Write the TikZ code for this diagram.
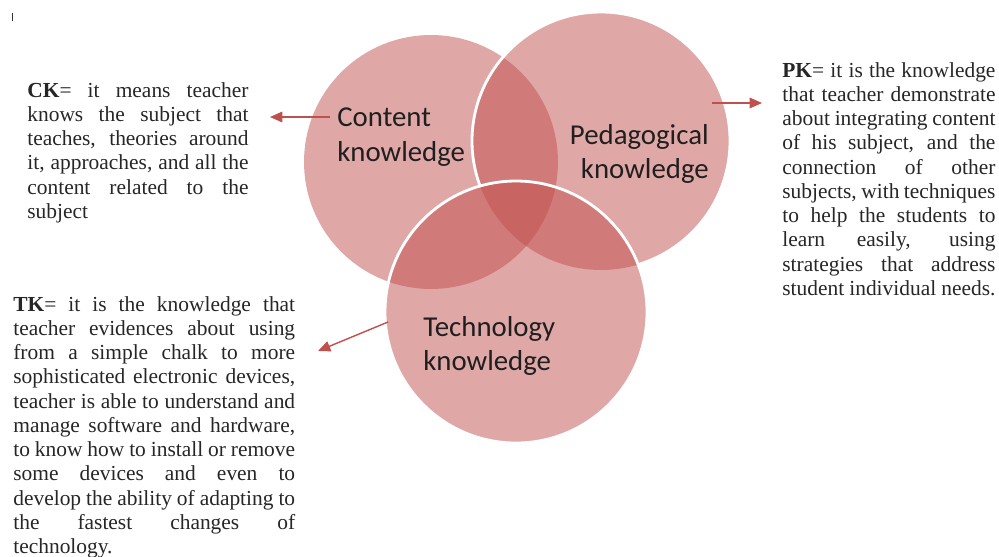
\documentclass[tikz,border=0pt]{standalone}
\usepackage{fontspec}
\setmainfont{Liberation Serif}
\newfontfamily\circfont{Carlito}
\usetikzlibrary{arrows.meta}
\definecolor{tpred}{RGB}{192,80,77}
\tikzset{
  venn/.style={circle, fill=tpred, fill opacity=0.5, inner sep=0pt},
  rim/.style={draw=white, line width=1.6pt},
  circlabel/.style={font=\circfont\fontsize{16.4}{19.6}\selectfont, text=black!88, inner sep=0pt},
  desc/.style={font=\fontsize{12.2}{13.8}\selectfont, text=black!85, align=justify, inner sep=0pt, anchor=north west},
  pointer/.style={draw=tpred, line width=0.8pt, -{Triangle[length=7pt,width=6pt]}, fill=tpred}
}
\hbadness=10000
\hyphenpenalty=10000

\begin{document}
\begin{tikzpicture}[x=0.02cm, y=-0.02cm]
    \useasboundingbox (0,0) rectangle (999,556);

    % Stray mark
    \coordinate (mtop) at (12,13);
    \coordinate (mbot) at (12,21);
    \draw[line width=0.5pt, black!80] (mtop) -- (mbot);

    % Circles
    \node[venn, minimum size=5.08cm] (C) at (431,162) {};
    \node[venn, minimum size=5.16cm] (P) at (601,141) {};
    \begin{scope}[even odd rule]
      \clip (516,312) circle[radius=131] (-50,-50) rectangle (1050,600);
      \draw[rim] (P.center) circle[radius=129];
    \end{scope}
    \node[venn, minimum size=5.24cm] (T) at (516,312) {};
    \draw[rim] (T.center) circle[radius=131];

    % Circle labels
    \node[circlabel, align=left, anchor=west] (Clab) at (337,137) {Content\\knowledge};
    \node[circlabel, align=right, anchor=east] (Plab) at (709,154) {Pedagogical\\knowledge};
    \node[circlabel, align=left, anchor=west] (Tlab) at (423,346) {Technology\\knowledge};

    % Descriptions
    \node[desc, text width=125.9pt] (CK) at (27,82) {\textbf{CK}= it means teacher\linebreak
      knows the subject that\linebreak
      teaches, theories around\linebreak
      it, approaches, and all the\linebreak
      content related to the\linebreak
      subject};
    \node[desc, text width=121.3pt] (PK) at (782,62) {\textbf{PK}= it is the knowledge\linebreak
      that teacher demonstrate\linebreak
      about integrating content\linebreak
      of his subject, and the\linebreak
      connection of other\linebreak
      subjects, with techniques\linebreak
      to help the students to\linebreak
      learn easily, using\linebreak
      strategies that address\linebreak
      student individual needs.};
    \node[desc, text width=160.4pt] (TK) at (13,296) {\textbf{TK}= it is the knowledge that\linebreak
      teacher evidences about using\linebreak
      from a simple chalk to more\linebreak
      sophisticated electronic devices,\linebreak
      teacher is able to understand and\linebreak
      manage software and hardware,\linebreak
      to know how to install or remove\linebreak
      some devices and even to\linebreak
      develop the ability of adapting to\linebreak
      the fastest changes of\linebreak
      technology.};

    % Pointers
    \coordinate (ckfrom) at (330,117);
    \coordinate (ckto) at (270,117);
    \coordinate (pkfrom) at (712,103);
    \coordinate (pkto) at (762,103);
    \coordinate (tkfrom) at (388,322);
    \coordinate (tkto) at (318,351);
    \draw[pointer] (ckfrom) -- (ckto);
    \draw[pointer] (pkfrom) -- (pkto);
    \draw[pointer] (tkfrom) -- (tkto);

\end{tikzpicture}
\end{document}
